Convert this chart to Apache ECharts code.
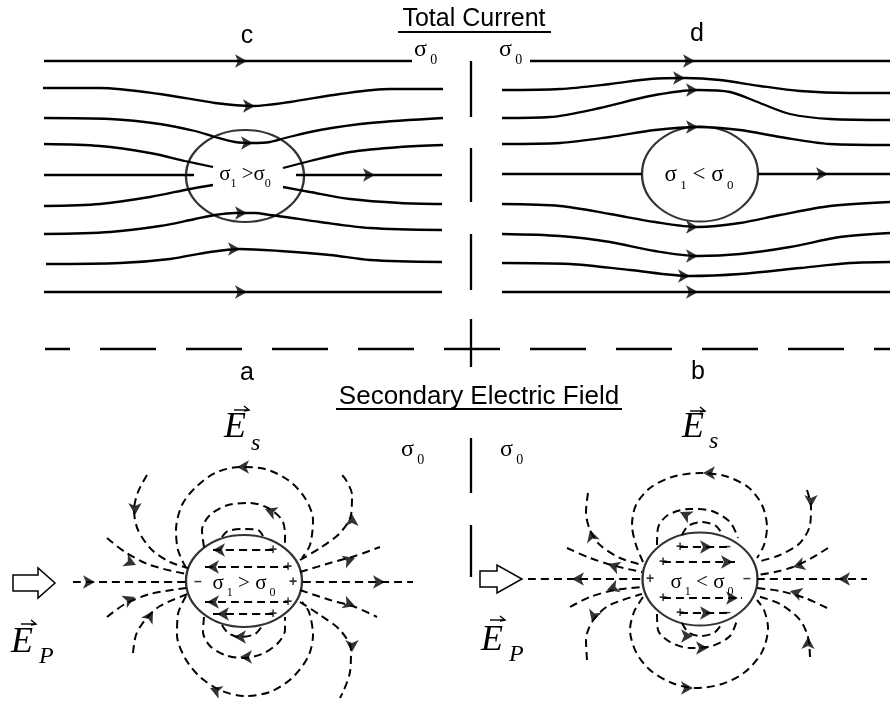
<!DOCTYPE html>
<html>
<head>
<meta charset="utf-8">
<script src="https://cdn.jsdelivr.net/npm/echarts@6/dist/echarts.min.js"></script>
<style>
  html, body { margin: 0; padding: 0; background: #fff; }
  #chart { width: 890px; height: 702px; }
</style>
</head>
<body>
<div id="chart"></div>
<script>
// ---- Streamlines of total current (upper panels), points in page units ----
const currentC = [
  [[44,61],[412,61]],
  [[43,88],[100,88],[160,94],[215,103],[253,106],[290,102],[340,94],[390,89],[443,89]],
  [[44,118],[110,119],[160,124],[195,131],[215,137],[235,142],[253,143],[270,142],[285,138],[320,130],[370,123],[443,118]],
  [[44,144],[100,146],[150,153],[185,161],[213,167]],
  [[283,168],[310,161],[350,152],[400,147],[443,145]],
  [[44,175],[194,175]],
  [[296,175],[442,175]],
  [[44,206],[100,204],[150,197],[190,189],[213,185]],
  [[283,187],[310,192],[350,199],[400,203],[442,204]],
  [[44,234],[110,232],[160,226],[195,219],[215,215],[235,213],[255,213],[270,215],[285,217],[320,222],[370,228],[442,230]],
  [[46,264],[120,263],[170,259],[210,252],[240,249],[280,251],[330,255],[370,260],[442,262]],
  [[44,292],[442,292]]
];
const currentD = [
  [[530,61],[890,61]],
  [[502,90],[560,89],[610,84],[650,79],[685,78],[720,80],[760,86],[800,91],[850,93],[890,93]],
  [[502,118],[550,117],[600,108],[650,96],[698,90],[730,92],[760,103],[790,114],[830,119],[890,120]],
  [[502,144],[560,143],[610,137],[655,130],[698,127],[740,130],[780,137],[830,144],[890,145]],
  [[502,174],[642,174]],
  [[758,174],[890,174]],
  [[502,204],[560,206],[610,214],[655,222],[698,227],[740,223],[780,215],[830,206],[890,202]],
  [[502,234],[560,236],[610,242],[655,251],[698,256],[740,254],[790,247],[840,237],[890,233]],
  [[502,263],[570,264],[630,270],[690,276],[740,274],[800,268],[850,263],[890,262]],
  [[502,292],[890,292]]
];
// arrowheads: x, y, direction dx, dy
const arrowsC = [[247,61,1,0],[255,106,1,0],[253,143,1,0],[375,175,1,0],[247,213,1,0],[240,249,1,0],[247,292,1,0]];
const arrowsD = [[695,61,1,0],[685,78,1,0],[698,90,1,0],[698,127,1,0],[828,174,1,0],[698,227,1,0],[698,256,1,0],[690,276,1,0],[698,292,1,0]];

// ---- Secondary electric field lines (lower panels) ----
const fieldA = [
  [[73,582],[186,582]],
  [[303,582],[413,582]],
  [[107,538],[125,552],[150,565],[186,574]],
  [[147,475],[138,492],[134,510],[138,530],[152,550],[170,562],[188,568]],
  [[107,617],[125,604],[150,594],[186,588]],
  [[133,653],[136,635],[145,620],[160,606],[188,594]],
  [[300,572],[330,563],[355,556],[380,547]],
  [[300,560],[320,548],[340,533],[351,515],[352,495],[346,480],[340,473]],
  [[300,590],[330,600],[355,607],[377,617]],
  [[300,602],[320,615],[340,630],[351,650],[350,672],[344,690],[340,698]],
  [[186,568],[178,550],[176,530],[182,505],[195,488],[215,473],[240,467],[265,469],[288,480],[305,498],[313,520],[310,545],[302,558]],
  [[204,547],[202,530],[210,515],[228,505],[250,503],[268,508],[282,520],[285,535],[285,548]],
  [[222,537],[228,531],[245,529],[258,530],[263,536]],
  [[186,596],[178,614],[177,635],[185,658],[200,677],[222,691],[245,696],[270,692],[292,678],[308,657],[313,635],[309,612],[302,602]],
  [[204,617],[203,632],[210,646],[225,655],[242,658],[262,654],[278,643],[285,630],[285,617]],
  [[222,625],[228,633],[240,637],[255,634],[262,626]],
  [[213,550],[273,550]],
  [[205,567],[288,567]],
  [[205,602],[288,602]],
  [[213,614],[273,614]]
];
const fieldB = [
  [[528,579],[642,579]],
  [[757,579],[867,579]],
  [[567,548],[590,558],[615,566],[642,572]],
  [[588,493],[586,512],[590,530],[600,545],[620,558],[642,565]],
  [[570,607],[590,597],[615,590],[642,587]],
  [[587,660],[586,640],[592,622],[608,606],[642,594]],
  [[828,548],[810,559],[793,567],[775,572],[757,575]],
  [[807,490],[811,507],[810,525],[800,543],[780,555],[757,562]],
  [[827,608],[805,598],[780,591],[757,588]],
  [[810,657],[808,637],[800,620],[780,604],[757,596]],
  [[643,562],[636,545],[632,525],[636,505],[650,488],[672,477],[700,473],[725,476],[748,487],[762,505],[767,527],[764,545],[757,558]],
  [[657,545],[658,528],[668,515],[690,509],[712,511],[730,522],[738,538]],
  [[682,535],[688,526],[702,522],[716,526],[722,534]],
  [[643,597],[634,612],[630,630],[636,652],[650,670],[672,683],[695,688],[722,684],[745,672],[762,652],[768,628],[764,610],[757,600]],
  [[657,614],[658,630],[670,642],[690,648],[712,646],[730,636],[737,620]],
  [[682,623],[688,632],[700,636],[714,633],[721,625]],
  [[680,547],[727,547]],
  [[663,562],[735,562]],
  [[663,598],[742,598]],
  [[680,613],[727,613]]
];
const arrowsA = [[95,582,1,0],[385,582,1,0],[136,565,1,0.45],[135,515,0,1],[135,597,1,-0.45],[153,611,0.6,-1],
  [355,558,1,-0.35],[352,514,0,-1],[355,606,1,0.35],[352,652,0,1],[237,467,-1,0],[265,509,-1,-0.4],
  [210,688,-1,-0.4],[240,657,-1,0],[234,637,-1,0],[213,550,-1,0],[207,567,-1,0],[207,602,-1,0],[217,614,-1,0]];
const arrowsB = [[572,579,-1,0],[838,579,-1,0],[608,564,-1,-0.35],[590,530,-0.3,-1],[607,590,-1,0.35],[592,622,-0.3,1],
  [793,567,-1,0.3],[811,507,0,1],[790,591,-1,-0.3],[808,637,0,-1],[703,473,-1,0],[680,512,-1,-0.5],
  [693,636,1,0],[708,648,1,0],[693,688,1,0],[712,547,1,0],[733,562,1,0],[712,613,1,0],[738,598,1,0]];
// surface charge marks inside the inclusions
const chargesA = [[273,550,'+'],[288,567,'+'],[293,582,'+'],[288,602,'+'],[273,614,'+'],[198,582,'–']];
const chargesB = [[680,547,'+'],[663,562,'+'],[650,579,'+'],[663,598,'+'],[680,613,'+'],[727,547,'–'],[747,579,'–'],[727,613,'–']];

// inclusions: centre x, centre y, width, height
const inclusions = [[245,176,118,92],[700,174,116,95],[244,581,116,92],[700,579,115,93]];

// panel dividers
const dividerX = 471;
const dividerSegments = [[61,117],[148,202],[234,290],[319,367],[438,493],[525,577]];
const dividerY = 349;

// ---- series builders ----
function lineSeries(pts, dashed) {
  return {
    type: 'line', data: pts, smooth: 0.3, symbol: 'none', silent: true, z: 2,
    lineStyle: { color: '#000', width: dashed ? 2 : 2.3, type: dashed ? [8, 5] : 'solid' }
  };
}
function arrowSeries(list) {
  return {
    type: 'scatter', data: list, symbol: 'arrow', symbolSize: [10, 12], silent: true, z: 4,
    symbolRotate: function (v) { return Math.atan2(-v[2], -v[3]) * 180 / Math.PI; },
    itemStyle: { color: '#000' }
  };
}
function chargeSeries(list) {
  return {
    type: 'scatter', data: list, symbolSize: 1, silent: true, z: 4,
    itemStyle: { color: 'rgba(0,0,0,0)' },
    label: { show: true, position: 'inside', formatter: p => p.value[2],
      color: '#000', fontFamily: 'Liberation Sans', fontWeight: 'bold', fontSize: 14 }
  };
}

const series = [];
currentC.concat(currentD).forEach(p => series.push(lineSeries(p, false)));
fieldA.concat(fieldB).forEach(p => series.push(lineSeries(p, true)));
series.push(arrowSeries(arrowsC.concat(arrowsD).concat(arrowsA).concat(arrowsB)));
series.push(chargeSeries(chargesA.concat(chargesB)));
series.push({
  type: 'scatter', silent: true, z: 3, symbol: 'circle',
  data: inclusions.map(e => ({ value: [e[0], e[1]], symbolSize: [e[2], e[3]] })),
  itemStyle: { color: 'rgba(0,0,0,0)', borderColor: '#000', borderWidth: 2.1 }
});
dividerSegments.forEach(s => series.push(lineSeries([[dividerX, s[0]], [dividerX, s[1]]], false)));
series.push({
  type: 'line', data: [[45, dividerY], [890, dividerY]], symbol: 'none', silent: true,
  lineStyle: { color: '#000', width: 2.3, type: [56, 30], dashOffset: 31 }
});

// ---- text helpers ----
const SERIF = '"Liberation Serif", "Times New Roman", serif';
const SANS = '"Liberation Sans", Arial, sans-serif';
function txt(x, y, text, font, align) {
  return { type: 'text', x: x, y: y, z: 10, silent: true,
    style: { text: text, font: font, fill: '#000', align: align || 'center', verticalAlign: 'middle' } };
}
function sigma(x, base, text, fs, sfs, align) {
  const lh = Math.round(fs * 1.45);
  return { type: 'text', x: x, y: base - lh / 2 - 0.34 * fs, z: 10, silent: true,
    style: { text: text, align: align || 'left', verticalAlign: 'top', fill: '#000',
      rich: {
        m: { fontFamily: SERIF, fontSize: fs, lineHeight: lh, fill: '#000' },
        b: { fontFamily: SERIF, fontSize: sfs, lineHeight: Math.round(sfs * 1.05), verticalAlign: 'bottom', fill: '#000' }
      } } };
}
function vecArrow(x1, x2, y) {
  return [
    { type: 'line', z: 10, silent: true, shape: { x1: x1, y1: y, x2: x2, y2: y }, style: { stroke: '#000', lineWidth: 1.4 } },
    { type: 'polyline', z: 10, silent: true, shape: { points: [[x2 - 5, y - 4], [x2, y], [x2 - 5, y + 1]] }, style: { stroke: '#000', lineWidth: 1.4, fill: null } }
  ];
}
function blockArrow(x0, xm, x1, cy, half, headHalf) {
  return { type: 'polygon', z: 10, silent: true,
    shape: { points: [[x0, cy - half], [xm, cy - half], [xm, cy - headHalf], [x1, cy], [xm, cy + headHalf], [xm, cy + half], [x0, cy + half]] },
    style: { fill: '#fff', stroke: '#000', lineWidth: 1.5 } };
}

const graphics = [
  txt(474, 19, 'Total Current', '25px ' + SANS),
  { type: 'line', z: 10, silent: true, shape: { x1: 398, y1: 32, x2: 551, y2: 32 }, style: { stroke: '#000', lineWidth: 1.8 } },
  txt(479, 397, 'Secondary Electric Field', '26px ' + SANS),
  { type: 'line', z: 10, silent: true, shape: { x1: 336, y1: 409, x2: 622, y2: 409 }, style: { stroke: '#000', lineWidth: 1.8 } },
  txt(247, 36, 'c', '25px ' + SANS),
  txt(697, 34, 'd', '25px ' + SANS),
  txt(247, 373, 'a', '25px ' + SANS),
  txt(698, 372, 'b', '25px ' + SANS),
  sigma(414, 58, '{m|σ} {b|0}', 24, 14),
  sigma(499, 58, '{m|σ} {b|0}', 24, 14),
  sigma(401, 458, '{m|σ} {b|0}', 24, 14),
  sigma(500, 458, '{m|σ} {b|0}', 24, 14),
  sigma(245, 182, '{m|σ}{b|1}{m| >σ}{b|0}', 21, 12, 'center'),
  sigma(699, 183, '{m|σ}{b| 1}{m| < σ}{b| 0}', 23, 13, 'center'),
  sigma(244, 591, '{m|σ}{b| 1}{m| > σ}{b| 0}', 21, 12, 'center'),
  sigma(702, 590, '{m|σ}{b| 1}{m| < σ}{b| 0}', 21, 12, 'center'),
  txt(224, 428, 'E', 'italic 36px ' + SERIF, 'left'),
  txt(251, 444, 's', 'italic 24px ' + SERIF, 'left'),
  txt(682, 428, 'E', 'italic 36px ' + SERIF, 'left'),
  txt(709, 442, 's', 'italic 24px ' + SERIF, 'left'),
  txt(11, 643, 'E', 'italic 36px ' + SERIF, 'left'),
  txt(39, 657, 'P', 'italic 24px ' + SERIF, 'left'),
  txt(481, 641, 'E', 'italic 36px ' + SERIF, 'left'),
  txt(509, 655, 'P', 'italic 24px ' + SERIF, 'left'),
  blockArrow(13, 38, 55, 583, 8, 15),
  blockArrow(480, 497, 522, 579, 8, 14)
].concat(vecArrow(234, 249, 410), vecArrow(690, 705, 411), vecArrow(21, 36, 624), vecArrow(490, 505, 620));

const chart = echarts.init(document.getElementById('chart'), null, { renderer: 'canvas' });
chart.setOption({
  animation: false,
  backgroundColor: '#fff',
  grid: { left: 0, right: 0, top: 0, bottom: 0 },
  xAxis: { type: 'value', min: 0, max: 890, show: false },
  yAxis: { type: 'value', min: 0, max: 702, inverse: true, show: false },
  series: series,
  graphic: graphics
});
</script>
</body>
</html>
